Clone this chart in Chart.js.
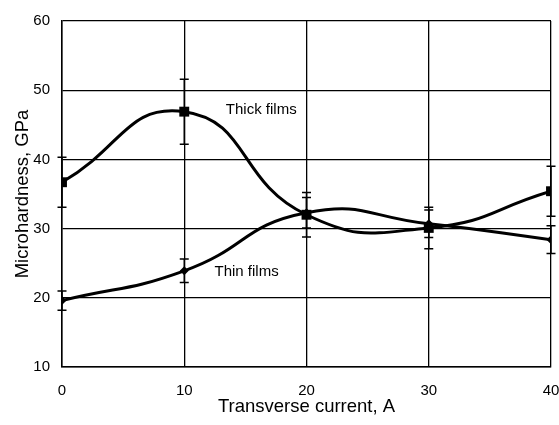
<!DOCTYPE html>
<html>
<head>
<meta charset="utf-8">
<script src="https://cdn.jsdelivr.net/npm/chart.js@4"></script>
<style>
  html, body { margin: 0; padding: 0; background: #fff; overflow: hidden; }
  #wrap { width: 559px; height: 425px; }
</style>
</head>
<body>
<div id="wrap"><canvas id="hardChart" width="559" height="425"></canvas></div>
<script>
// Datos
const currents = [0, 10, 20, 30, 40];
const thickValues = [36.7, 46.9, 32.0, 30.1, 35.4];
const thickErrors = [3.6, 4.7, 3.2, 3.0, 3.6];
const thinValues = [19.6, 23.9, 32.3, 30.7, 28.4];
const thinErrors = [1.4, 1.7, 2.2, 2.0, 2.0];
const xTicks = [0, 10, 20, 30, 40];
const yTicks = [10, 20, 30, 40, 50, 60];
const seriesNames = ['Thick films', 'Thin films'];
const labelPos = [[16.3, 47.2], [15.1, 23.7]];

// Plugin para barras de error y etiquetas de series
const errorBarsPlugin = {
    id: 'errorBars',
    afterDatasetsDraw(chart) {
        const ctx = chart.ctx;
        const xs = chart.scales.x;
        const ys = chart.scales.y;
        ctx.save();
        ctx.strokeStyle = '#000';
        ctx.lineWidth = 1.5;
        chart.data.datasets.forEach(function (ds) {
            ds.data.forEach(function (pt, i) {
                const e = ds.errors[i];
                const px = xs.getPixelForValue(pt.x);
                const top = ys.getPixelForValue(pt.y + e);
                const bot = ys.getPixelForValue(pt.y - e);
                ctx.beginPath();
                ctx.moveTo(px, top); ctx.lineTo(px, bot);
                ctx.moveTo(px - 4.5, top); ctx.lineTo(px + 4.5, top);
                ctx.moveTo(px - 4.5, bot); ctx.lineTo(px + 4.5, bot);
                ctx.stroke();
            });
        });
        ctx.fillStyle = '#000';
        ctx.font = '15px "Liberation Sans", Arial, sans-serif';
        ctx.textAlign = 'center';
        ctx.textBaseline = 'middle';
        seriesNames.forEach(function (name, i) {
            ctx.fillText(name, xs.getPixelForValue(labelPos[i][0]), ys.getPixelForValue(labelPos[i][1]));
        });
        ctx.restore();
    }
};

document.addEventListener("DOMContentLoaded", function () {
    const ctx = document.getElementById('hardChart').getContext('2d');
    const font = '"Liberation Sans", Arial, sans-serif';

    new Chart(ctx, {
        type: 'line',
        data: {
            datasets: [{
                label: seriesNames[0],
                data: currents.map((c, i) => ({ x: c, y: thickValues[i] })),
                errors: thickErrors,
                borderColor: '#000',
                backgroundColor: '#000',
                borderWidth: 3,
                tension: 0.5,
                pointStyle: 'rect',
                pointRadius: 7,
                pointBorderWidth: 0
            }, {
                label: seriesNames[1],
                data: currents.map((c, i) => ({ x: c, y: thinValues[i] })),
                errors: thinErrors,
                borderColor: '#000',
                backgroundColor: '#000',
                borderWidth: 3,
                tension: 0.5,
                pointStyle: 'rectRot',
                pointRadius: 4.5,
                pointBorderWidth: 0
            }]
        },
        options: {
            responsive: false,
            animation: false,
            layout: { padding: { top: 17, right: 0, left: 0, bottom: 0 } },
            plugins: { legend: { display: false }, tooltip: { enabled: false } },
            scales: {
                x: {
                    type: 'linear',
                    min: 0, max: 40,
                    afterBuildTicks: function (s) { s.ticks = xTicks.map(v => ({ value: v })); },
                    afterFit: function (s) { s.height = 58; s.paddingLeft = 0; s.paddingRight = 8; },
                    grid: { color: '#000', lineWidth: 1.3, drawTicks: false },
                    border: { color: '#000', width: 1.5 },
                    ticks: { color: '#000', font: { family: font, size: 15 }, padding: 15, maxRotation: 0 },
                    title: { display: true, text: 'Transverse current, A', color: '#000',
                             font: { family: font, size: 18.5 }, padding: { top: 0, bottom: 7 } }
                },
                y: {
                    min: 10, max: 60,
                    afterBuildTicks: function (s) { s.ticks = yTicks.map(v => ({ value: v })); },
                    afterFit: function (s) { s.width = 62; },
                    grid: { color: '#000', lineWidth: 1.3, drawTicks: false },
                    border: { color: '#000', width: 1.5 },
                    ticks: { color: '#000', font: { family: font, size: 15 }, padding: 12 },
                    title: { display: true, text: 'Microhardness, GPa', color: '#000',
                             font: { family: font, size: 18.5 }, padding: { top: 12, bottom: 0 } }
                }
            }
        },
        plugins: [errorBarsPlugin]
    });
});
</script>
</body>
</html>
